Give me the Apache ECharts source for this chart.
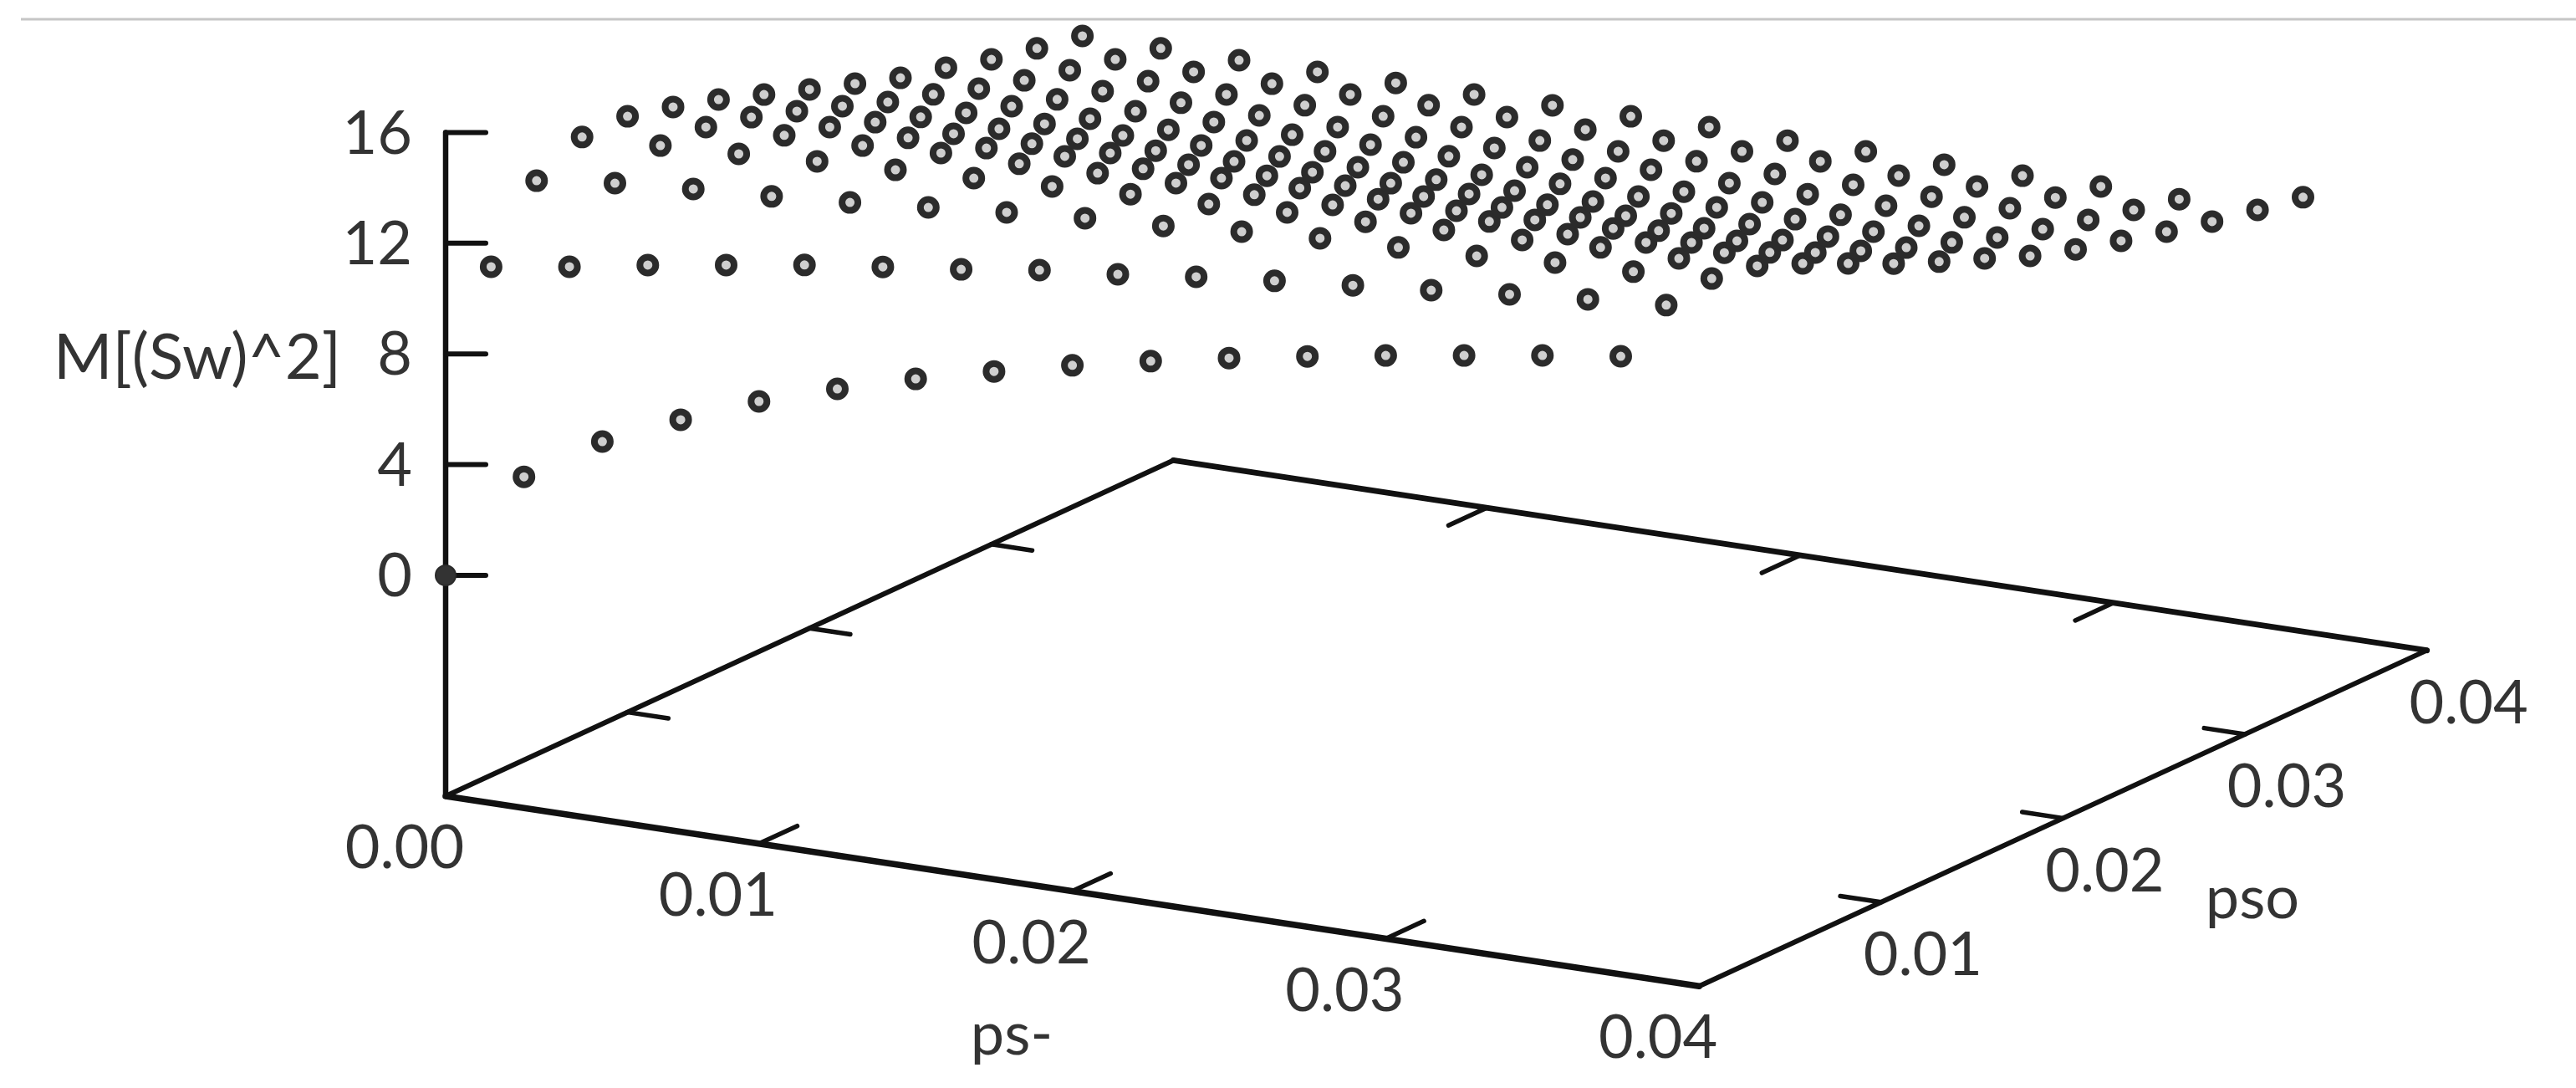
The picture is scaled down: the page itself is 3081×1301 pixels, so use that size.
<!DOCTYPE html>
<html>
<head>
<meta charset="utf-8">
<style>html,body{margin:0;padding:0;background:#fff}#c{width:3081px;height:1301px}</style>
<script src="https://cdn.jsdelivr.net/npm/echarts@6/dist/echarts.min.js"></script>
</head>
<body>
<div id="c"></div>
<script>
// grid coordinates
const psMinus = [0,0.0025,0.005,0.0075,0.01,0.0125,0.015,0.0175,0.02,0.0225,0.025,0.0275,0.03,0.0325,0.035,0.0375];
const pso = [0,0.0025,0.005,0.0075,0.01,0.0125,0.015,0.0175,0.02,0.0225,0.025,0.0275,0.03,0.0325,0.035,0.0375];
// M[(Sw)^2], one list per pso value, read along ps-
const sw00 = [0,3.99,5.69,6.91,8.00,8.88,9.67,10.37,11.02,11.60,12.14,12.63,13.09,13.52,13.95,14.35];
const sw01 = [10.39,10.82,11.31,11.74,12.17,12.53,12.87,13.27,13.55,13.89,14.17,14.44,14.69,14.97,15.22,15.44];
const sw02 = [12.74,13.08,13.30,13.46,13.67,13.92,14.17,14.39,14.54,14.76,14.95,15.05,15.17,15.36,15.46,15.64];
const sw03 = [13.56,13.68,13.81,13.97,14.09,14.22,14.35,14.50,14.57,14.70,14.79,14.92,14.99,15.15,15.18,15.34];
const sw04 = [13.55,13.59,13.72,13.78,13.94,13.98,14.07,14.14,14.15,14.21,14.34,14.47,14.44,14.57,14.63,14.67];
const sw05 = [13.13,13.19,13.26,13.30,13.36,13.49,13.47,13.56,13.63,13.66,13.67,13.77,13.89,13.81,13.88,13.91];
const sw06 = [12.64,12.65,12.68,12.69,12.76,12.85,12.86,12.89,12.96,13.00,13.03,13.10,13.05,13.11,13.12,13.15];
const sw07 = [12.06,12.07,12.11,12.11,12.18,12.18,12.22,12.26,12.29,12.33,12.37,12.40,12.38,12.38,12.42,12.46];
const sw08 = [11.49,11.46,11.50,11.53,11.54,11.61,11.64,11.68,11.66,11.69,11.73,11.73,11.77,11.75,11.78,11.82];
const sw09 = [10.94,10.98,10.98,10.96,10.99,11.03,11.07,11.10,11.08,11.18,11.15,11.19,11.19,11.17,11.21,11.15];
const sw10 = [10.39,10.43,10.47,10.47,10.51,10.48,10.55,10.56,10.59,10.63,10.57,10.61,10.59,10.62,10.63,10.63];
const sw11 = [10.00,9.97,10.01,10.02,9.99,10.00,10.06,10.10,10.11,10.17,10.12,10.15,10.16,10.17,10.17,10.18];
const sw12 = [9.54,9.58,9.61,9.56,9.60,9.63,9.67,9.61,9.65,9.72,9.69,9.73,9.73,9.74,9.75,9.75];
const sw13 = [9.18,9.21,9.19,9.19,9.23,9.27,9.27,9.25,9.28,9.32,9.39,9.30,9.34,9.37,9.35,9.36];
const sw14 = [8.87,8.85,8.85,8.86,8.89,8.90,8.94,8.97,9.01,8.95,8.99,8.94,8.97,9.01,8.98,9.02];
const sw15 = [null,null,null,null,null,null,null,null,null,null,null,null,null,null,null,8.72];
const swRows = [sw00,sw01,sw02,sw03,sw04,sw05,sw06,sw07,sw08,sw09,sw10,sw11,sw12,sw13,sw14,sw15];
// axis ticks
const zTicks = [0,4,8,12,16];
const floorTicks = [0.01,0.02,0.03];
const psTickLabels = ['0.00','0.01','0.02','0.03','0.04'];
const psoTickLabels = ['0.01','0.02','0.03','0.04'];
const zTitle = 'M[(Sw)^2]', psTitle = 'ps-', psoTitle = 'pso';

// gnuplot-style oblique view: maps (ps-, pso, M) to the canvas scale of the hidden axes
const view = {x0:533, y0:688, psX:37480, psY:5680, psoX:21760, psoY:-10040, z:33.1, floor:-7.976, end:0.04};
function project(p, s, m){
  return [view.x0 + p*view.psX + s*view.psoX, view.y0 + p*view.psY + s*view.psoY - m*view.z];
}
const F = view.floor, E = view.end;
const ink = '#111111';
function seg(a, b, w){
  return {type:'line', data:[a,b], showSymbol:false, symbol:'none', silent:true, z:2,
    lineStyle:{color:ink, width:w, cap:'round'}};
}
const lines = [
  seg(project(0,0,F), project(0,0,16), 6.5),
  seg(project(0,0,F), project(E,0,F), 7.5),
  seg(project(0,E,F), project(E,E,F), 7),
  seg(project(0,0,F), project(0,E,F), 6),
  seg(project(E,0,F), project(E,E,F), 6)
];
zTicks.forEach(t=>{ const a=project(0,0,t); lines.push(seg(a,[a[0]+48,a[1]],6)); });
floorTicks.forEach(t=>{
  lines.push(seg(project(t,0,F), project(t,0.0021,F), 5.5));
  lines.push(seg(project(t,E,F), project(t,E-0.0021,F), 5.5));
  lines.push(seg(project(0,t,F), project(0.0013,t,F), 5.5));
  lines.push(seg(project(E,t,F), project(E-0.0013,t,F), 5.5));
});

const labelFont = {fontFamily:'Lato', fontSize:72, color:'#000', fontWeight:400};
function textSeries(items, align, size){
  return {type:'scatter', symbolSize:0, silent:true, z:3,
    data:items.map(d=>({value:[d[0],d[1]], name:d[2]})),
    label:{show:true, position:'inside', align:align||'center', verticalAlign:'middle',
      formatter:p=>p.name, ...labelFont, fontSize:size||72}};
}
const zLabels = zTicks.map(t=>{ const a=project(0,0,t); return [a[0]-40, a[1]+2, String(t)]; });
const psLabels = psTickLabels.map((l,k)=>{ const a=project(k*0.01,0,F); return [a[0]-49, a[1]+63, l]; });
const psoLabels = psoTickLabels.map((l,k)=>{ const a=project(E,(k+1)*0.01,F); return [a[0]+50, a[1]+64, l]; });

const points = [], origin = [];
swRows.forEach((row,j)=>row.forEach((m,i)=>{
  if(m===null) return;
  const q = project(psMinus[i], pso[j], m);
  (i===0 && j===0 ? origin : points).push(q);
}));

const chart = echarts.init(document.getElementById('c'), null, {renderer:'canvas', width:3081, height:1301});
chart.setOption({
  animation:false,
  backgroundColor:'#ffffff',
  grid:{left:0,right:0,top:0,bottom:0},
  xAxis:{type:'value',min:0,max:3081,show:false},
  yAxis:{type:'value',min:0,max:1301,inverse:true,show:false},
  graphic:[{type:'line', silent:true, shape:{x1:25,y1:23,x2:3081,y2:23}, style:{stroke:'#c6c6c6', lineWidth:3}}],
  series:[
    ...lines,
    textSeries(zLabels,'right'),
    textSeries(psLabels),
    textSeries(psoLabels),
    textSeries([[64,428,zTitle]],'left',76),
    textSeries([[1210,1238,psTitle],[2694,1075,psoTitle]]),
    {type:'scatter', data:points, symbol:'circle', symbolSize:19, silent:true, z:4,
      itemStyle:{color:'#cfcfcf', borderColor:'#2b2b2b', borderWidth:8, opacity:1}},
    {type:'scatter', data:origin, symbol:'circle', symbolSize:24, silent:true, z:4,
      itemStyle:{color:'#333333', borderColor:'#2b2b2b', borderWidth:2, opacity:1}}
  ]
});
</script>
</body>
</html>
